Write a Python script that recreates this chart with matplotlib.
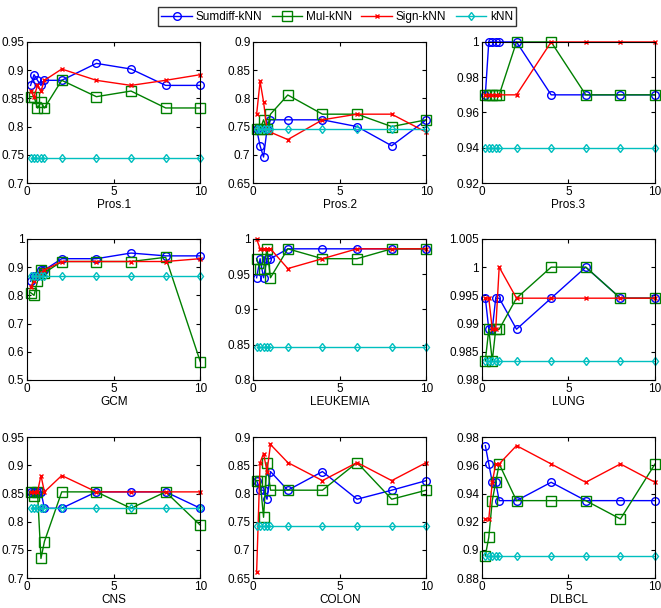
import matplotlib
matplotlib.use('Agg')
import matplotlib.pyplot as plt
from matplotlib.ticker import FuncFormatter

plt.rcParams['font.family'] = ['Liberation Sans', 'DejaVu Sans']

x = [0.2, 0.4, 0.6, 0.8, 1, 2, 4, 6, 8, 10]

names = ['Pros.1', 'Pros.2', 'Pros.3', 'GCM', 'LEUKEMIA', 'LUNG', 'CNS', 'COLON', 'DLBCL']

sumdiff = {
    'Pros.1': [0.873, 0.892, 0.882, 0.873, 0.882, 0.882, 0.912, 0.902, 0.873, 0.873],
    'Pros.2': [0.745, 0.716, 0.696, 0.745, 0.762, 0.762, 0.762, 0.750, 0.716, 0.762],
    'Pros.3': [0.97, 1.0, 1.0, 1.0, 1.0, 1.0, 0.97, 0.97, 0.97, 0.97],
    'GCM': [0.85, 0.87, 0.87, 0.89, 0.89, 0.93, 0.93, 0.95, 0.94, 0.94],
    'LEUKEMIA': [0.945, 0.972, 0.945, 0.972, 0.972, 0.986, 0.986, 0.986, 0.986, 0.986],
    'LUNG': [0.9945, 0.989, 0.989, 0.9945, 0.9945, 0.989, 0.9945, 1.0, 0.9945, 0.9945],
    'CNS': [0.853, 0.853, 0.853, 0.853, 0.824, 0.824, 0.853, 0.853, 0.853, 0.824],
    'COLON': [0.823, 0.806, 0.806, 0.790, 0.839, 0.806, 0.839, 0.790, 0.806, 0.823],
    'DLBCL': [0.974, 0.961, 0.948, 0.948, 0.935, 0.935, 0.948, 0.935, 0.935, 0.935],
}
mul = {
    'Pros.1': [0.853, 0.853, 0.833, 0.843, 0.833, 0.882, 0.853, 0.863, 0.833, 0.833],
    'Pros.2': [0.745, 0.745, 0.762, 0.745, 0.772, 0.806, 0.772, 0.772, 0.750, 0.762],
    'Pros.3': [0.97, 0.97, 0.97, 0.97, 0.97, 1.0, 1.0, 0.97, 0.97, 0.97],
    'GCM': [0.81, 0.80, 0.85, 0.89, 0.88, 0.92, 0.92, 0.92, 0.935, 0.565],
    'LEUKEMIA': [0.972, 0.958, 0.958, 0.986, 0.945, 0.986, 0.972, 0.972, 0.986, 0.986],
    'LUNG': [0.9834, 0.989, 0.9834, 0.989, 0.989, 0.9945, 1.0, 1.0, 0.9945, 0.9945],
    'CNS': [0.853, 0.845, 0.853, 0.735, 0.765, 0.853, 0.853, 0.824, 0.853, 0.794],
    'COLON': [0.823, 0.823, 0.758, 0.855, 0.806, 0.806, 0.806, 0.855, 0.790, 0.806],
    'DLBCL': [0.896, 0.909, 0.935, 0.948, 0.961, 0.935, 0.935, 0.935, 0.922, 0.961],
}
sign = {
    'Pros.1': [0.863, 0.853, 0.873, 0.863, 0.882, 0.902, 0.882, 0.873, 0.882, 0.892],
    'Pros.2': [0.772, 0.830, 0.794, 0.745, 0.740, 0.727, 0.762, 0.772, 0.772, 0.740],
    'Pros.3': [0.97, 0.97, 0.97, 0.97, 0.97, 0.97, 1.0, 1.0, 1.0, 1.0],
    'GCM': [0.83, 0.85, 0.87, 0.88, 0.89, 0.92, 0.92, 0.92, 0.92, 0.93],
    'LEUKEMIA': [1.0, 0.986, 0.986, 0.986, 0.986, 0.958, 0.972, 0.986, 0.986, 0.986],
    'LUNG': [0.9945, 0.9945, 0.989, 0.989, 1.0, 0.9945, 0.9945, 0.9945, 0.9945, 0.9945],
    'CNS': [0.853, 0.853, 0.853, 0.882, 0.853, 0.882, 0.853, 0.853, 0.853, 0.853],
    'COLON': [0.661, 0.855, 0.871, 0.839, 0.887, 0.855, 0.823, 0.855, 0.823, 0.855],
    'DLBCL': [0.922, 0.922, 0.948, 0.961, 0.961, 0.974, 0.961, 0.948, 0.961, 0.948],
}
knn = {
    'Pros.1': 0.745, 'Pros.2': 0.745, 'Pros.3': 0.94, 'GCM': 0.87, 'LEUKEMIA': 0.847,
    'LUNG': 0.9834, 'CNS': 0.824, 'COLON': 0.742, 'DLBCL': 0.896,
}

# y ranges / ticks as in the original panels
ylims = {
    'Pros.1': (0.7, 0.95, 0.05), 'Pros.2': (0.65, 0.9, 0.05), 'Pros.3': (0.92, 1.0, 0.02),
    'GCM': (0.5, 1.0, 0.1), 'LEUKEMIA': (0.8, 1.0, 0.05), 'LUNG': (0.98, 1.005, 0.005),
    'CNS': (0.7, 0.95, 0.05), 'COLON': (0.65, 0.9, 0.05), 'DLBCL': (0.88, 0.98, 0.02),
}

fig = plt.figure(figsize=(6.61, 6.08), dpi=100)
lefts = [0.041, 0.383, 0.729]
bottoms = [0.699, 0.375, 0.049]
w, h = 0.262, 0.232

fmt = FuncFormatter(lambda v, p: f'{round(v, 4):g}')
handles = None
for i, name in enumerate(names):
    ax = fig.add_axes([lefts[i % 3], bottoms[i // 3], w, h])
    l1, = ax.plot(x, sumdiff[name], '-o', color='blue', mfc='none', ms=5.5, lw=1.0, mew=1.0,
                  clip_on=False, label='Sumdiff-kNN')
    l2, = ax.plot(x, mul[name], '-s', color='green', mfc='none', ms=6.5, lw=1.0, mew=1.0,
                  clip_on=False, label='Mul-kNN')
    l3, = ax.plot(x, sign[name], '-x', color='red', ms=3.5, lw=1.0, mew=1.0,
                  clip_on=False, label='Sign-kNN')
    l4, = ax.plot(x, [knn[name]] * len(x), '-d', color='#00bfbf', mfc='none', ms=4.5, lw=1.0, mew=1.0,
                  clip_on=False, label='kNN')
    handles = [l1, l2, l3, l4]
    lo, hi, st = ylims[name]
    n = int(round((hi - lo) / st))
    ax.set_ylim(lo, hi)
    ax.set_yticks([lo + k * st for k in range(n + 1)])
    ax.yaxis.set_major_formatter(fmt)
    ax.set_xlim(0, 10)
    ax.set_xticks([0, 5, 10])
    ax.tick_params(direction='in', top=True, right=True, labelsize=8.5, length=3, pad=2)
    ax.set_xlabel(name, fontsize=8.5, labelpad=1)

fig.legend(handles=handles, loc='upper center', ncol=4, bbox_to_anchor=(0.51, 0.998),
           fontsize=8.5, frameon=True, fancybox=False, edgecolor='black',
           handlelength=2.6, handletextpad=0.3, columnspacing=0.8, borderpad=0.3)

plt.savefig('out.png', dpi=100)
